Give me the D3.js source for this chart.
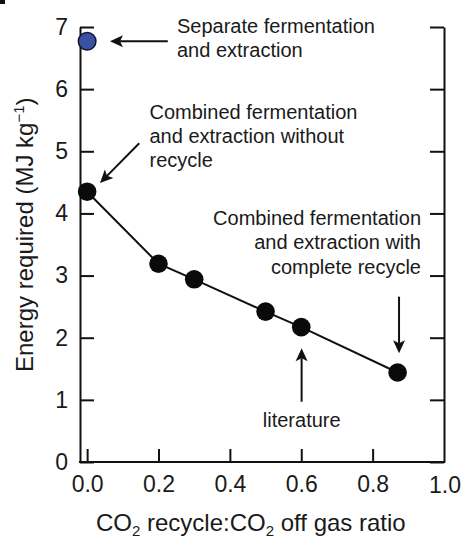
<!DOCTYPE html>
<html>
<head>
<meta charset="utf-8">
<script src="https://cdn.jsdelivr.net/npm/d3@7"></script>
<style>
  html, body { margin: 0; padding: 0; background: #fff; }
  svg { display: block; }
  text { font-family: "Liberation Sans", Arial, sans-serif; fill: #1a1a1a; }
</style>
</head>
<body>
<svg id="chart" width="462" height="538"></svg>
<script>
// CO2 recycle ratio vs. energy requirement
const ratio  = [0.0, 0.2, 0.3, 0.5, 0.6, 0.87];
const energy = [4.35, 3.19, 2.94, 2.42, 2.17, 1.44];

// separate fermentation + extraction case
const separateRatio  = [0.0];
const separateEnergy = [6.77];

const xTicks = [0.0, 0.2, 0.4, 0.6, 0.8, 1.0];
const yTicks = [0, 1, 2, 3, 4, 5, 6, 7];

// annotation arrows, in data units: tail -> head
const arrowTails = [[0.226, 6.77], [0.146, 5.13], [0.874, 2.66], [0.601, 0.97]];
const arrowHeads = [[0.064, 6.77], [0.036, 4.49], [0.874, 1.75], [0.601, 1.83]];

const svg = d3.select("#chart");

const x = d3.scaleLinear().domain([-0.02, 1.0]).range([80, 444]);
const y = d3.scaleLinear().domain([0, 7]).range([462, 27]);

// panel letter remnant in the corner
svg.append("rect").attr("x", 0).attr("y", 0).attr("width", 5).attr("height", 4).attr("fill", "#111");

// axes
const axisStroke = 2;
const tickLen = 14;

const gLeft = svg.append("g").attr("transform", `translate(${x.range()[0]},0)`)
  .call(d3.axisLeft(y).tickValues(yTicks).tickSizeInner(-tickLen).tickSizeOuter(0).tickPadding(12).tickFormat(d3.format("d")));

const gRight = svg.append("g").attr("transform", `translate(${x.range()[1]},0)`)
  .call(d3.axisRight(y).tickValues(yTicks).tickSizeInner(-tickLen).tickSizeOuter(0).tickFormat(""));

const gBottom = svg.append("g").attr("transform", `translate(0,${y(0)})`)
  .call(d3.axisBottom(x).tickValues(xTicks.slice(0, 5)).tickSizeInner(-13).tickSizeOuter(0).tickPadding(14).tickFormat(d3.format(".1f")));

// 1.0 label sits at the right axis
gBottom.append("text")
  .attr("x", x(1.0) + 1).attr("y", 31)
  .attr("text-anchor", "middle")
  .style("font-size", "23px")
  .text(d3.format(".1f")(xTicks[5]));

[gLeft, gRight, gBottom].forEach(g => {
  g.select(".domain").attr("stroke", "#111").attr("stroke-width", axisStroke);
  g.selectAll(".tick line").attr("stroke", "#111").attr("stroke-width", axisStroke);
  g.selectAll(".tick text").style("font-size", "23px").attr("fill", "#1a1a1a");
});
gBottom.select(".domain").attr("d", `M${x.range()[0] - 1},0H${x.range()[1] + 1}`);

// axis titles
const xTitle = svg.append("text")
  .attr("x", 96).attr("y", 530.5)
  .style("font-size", "24px");
xTitle.append("tspan").text("CO");
xTitle.append("tspan").attr("dy", 5).style("font-size", "15px").text("2");
xTitle.append("tspan").attr("dy", -5).text(" recycle:CO");
xTitle.append("tspan").attr("dy", 5).style("font-size", "15px").text("2");
xTitle.append("tspan").attr("dy", -5).text(" off gas ratio");

const yTitle = svg.append("text")
  .attr("transform", "translate(33,372) rotate(-90)")
  .style("font-size", "24px");
yTitle.append("tspan").text("Energy required (MJ kg");
yTitle.append("tspan").attr("dy", -9).style("font-size", "15px").text("\u22121");
yTitle.append("tspan").attr("dy", 9).text(")");

// series line
const line = d3.line().x(i => x(ratio[i])).y(i => y(energy[i]));
svg.append("path")
  .attr("d", line(d3.range(ratio.length)))
  .attr("fill", "none").attr("stroke", "#111").attr("stroke-width", 2);

svg.append("g").selectAll("circle")
  .data(d3.range(ratio.length))
  .join("circle")
  .attr("cx", i => x(ratio[i])).attr("cy", i => y(energy[i]))
  .attr("r", 9.3).attr("fill", "#0a0a0a");

svg.append("g").selectAll("circle")
  .data(d3.range(separateRatio.length))
  .join("circle")
  .attr("cx", i => x(separateRatio[i])).attr("cy", i => y(separateEnergy[i]))
  .attr("r", 8.8).attr("fill", "#3a52a3").attr("stroke", "#15172e").attr("stroke-width", 1.5);

// arrows
function arrow(t, h) {
  const x0 = x(t[0]), y0 = y(t[1]), x1 = x(h[0]), y1 = y(h[1]);
  const ang = Math.atan2(y1 - y0, x1 - x0);
  const len = 13, half = 6, notch = 3;
  const ux = Math.cos(ang), uy = Math.sin(ang);
  const px = -uy, py = ux;
  const bx = x1 - ux * len, by = y1 - uy * len;
  svg.append("line")
    .attr("x1", x0).attr("y1", y0)
    .attr("x2", x1 - ux * (len - notch)).attr("y2", y1 - uy * (len - notch))
    .attr("stroke", "#111").attr("stroke-width", 2);
  const pts = [
    [x1, y1],
    [bx + px * half, by + py * half],
    [bx + ux * notch, by + uy * notch],
    [bx - px * half, by - py * half]
  ];
  svg.append("path").attr("d", "M" + pts.map(p => p.join(",")).join("L") + "Z").attr("fill", "#111");
}
arrowTails.forEach((t, i) => arrow(t, arrowHeads[i]));

// annotation labels
function label(lines, px, py, anchor) {
  const t = svg.append("text").attr("text-anchor", anchor).style("font-size", "20px");
  lines.forEach((s, i) => t.append("tspan").attr("x", px).attr("y", py + i * 24.3).text(s));
}
label(["Separate fermentation", "and extraction"], 177, 32.5, "start");
label(["Combined fermentation", "and extraction without", "recycle"], 149.5, 118.5, "start");
label(["Combined fermentation", "and extraction with", "complete recycle"], 421, 225, "end");
label(["literature"], 301.7, 426.5, "middle");
</script>
</body>
</html>
